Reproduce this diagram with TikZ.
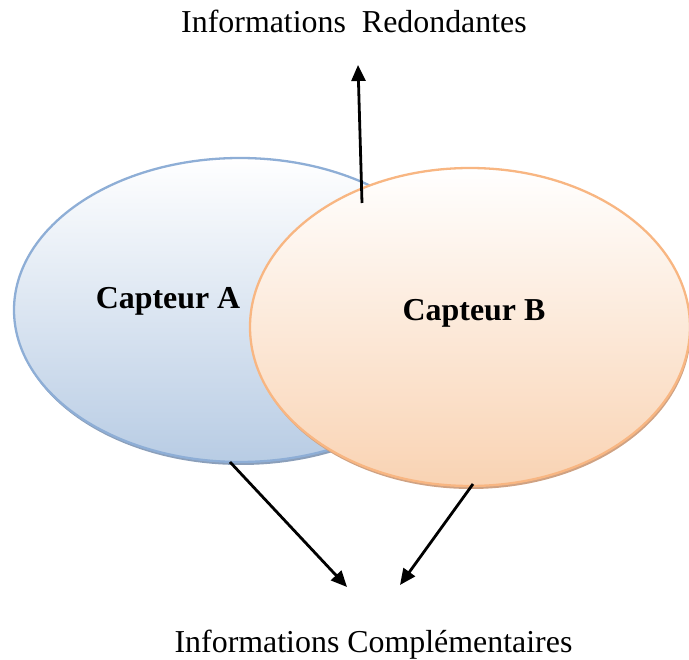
\documentclass[tikz,border=0pt]{standalone}
\usepackage{fontspec}
\setmainfont{Liberation Serif}
\usetikzlibrary{shapes.geometric,arrows.meta,shadows}
\definecolor{blueedge}{HTML}{8EAED6}
\definecolor{bluefill}{HTML}{B8CCE4}
\definecolor{blueshade}{HTML}{8B9FBA}
\definecolor{orangeedge}{HTML}{F8B682}
\definecolor{orangefill}{HTML}{F9D3B3}
\definecolor{orangeshade}{HTML}{CFA283}
\begin{document}
\begin{tikzpicture}[x=1pt,y=-1pt,
  sensor/.style={ellipse, inner sep=0pt, outer sep=0pt, line width=2.3pt},
  txt/.style={font=\fontsize{31.9}{36}\selectfont, anchor=base, inner sep=0pt},
  boldtxt/.style={font=\fontsize{31.9}{36}\selectfont\bfseries, anchor=base, inner sep=0pt},
  conn/.style={line width=2.8pt, -{Triangle[length=16pt,width=14pt]}}]
\useasboundingbox (0,0) rectangle (689,660);

% the two sensor fields
\node[sensor, minimum width=452pt, minimum height=304pt, draw=blueedge,
      top color=white, bottom color=bluefill,
      drop shadow={shadow xshift=1pt, shadow yshift=-3pt, fill=blueshade, opacity=1}]
      (A) at (240,310) {};
\node[sensor, minimum width=440pt, minimum height=318pt, draw=orangeedge,
      top color=white, bottom color=orangefill,
      drop shadow={shadow xshift=1pt, shadow yshift=-3pt, fill=orangeshade, opacity=1}]
      (B) at (470,327) {};

\node[boldtxt] (ta) at (168,309) {Capteur A};
\node[boldtxt] (tb) at (474,321) {Capteur B};

\node[txt] (red) at (354,33) {Informations\ \ Redondantes};
\node[txt] (comp) at (373.5,652) {Informations Complémentaires};

% arrow end points
\coordinate (r0) at (362,203);
\coordinate (r1) at (358,65);
\coordinate (a0) at (230,462);
\coordinate (c1) at (347,587);
\coordinate (b0) at (473,484);
\coordinate (c2) at (400,585);

\draw[conn] (r0) -- (r1);
\draw[conn] (a0) -- (c1);
\draw[conn] (b0) -- (c2);
\end{tikzpicture}
\end{document}
